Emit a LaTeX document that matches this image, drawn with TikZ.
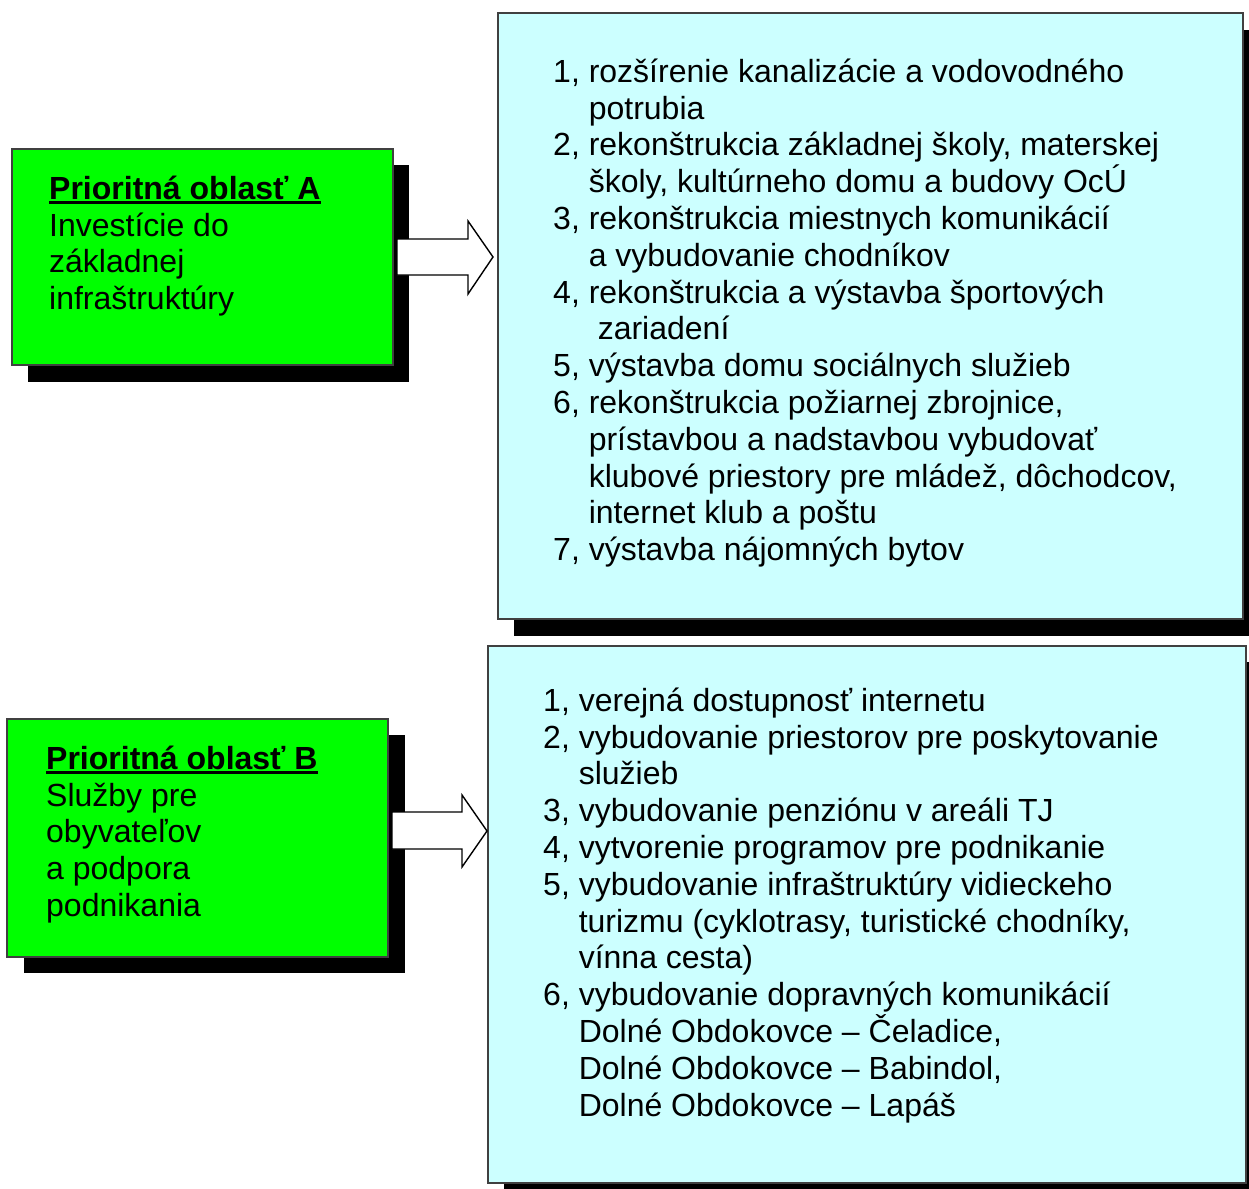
\documentclass[tikz,border=0pt]{standalone}
\usepackage{fontspec}
\setmainfont{Liberation Sans}
\newcommand\ind{\phantom{1, }}
\newcommand\myul[1]{\setbox0\hbox{#1}\rlap{\rule[-4.5pt]{\wd0}{3pt}}\box0}
\definecolor{boxgreen}{HTML}{00FF00}
\definecolor{boxcyan}{HTML}{CCFFFF}
\tikzset{
  box/.style={draw=black!75, line width=1.4pt},
  shadowbox/.style={fill=black, draw=none},
  txt/.style={anchor=north west, inner sep=0pt, align=left,
    font=\fontsize{32}{36.8}\selectfont},
  blockarrow/.style={draw=black, fill=white, line width=1.4pt, line join=miter}
}
\begin{document}
\begin{tikzpicture}[x=1pt,y=-1pt]
\useasboundingbox (0,0) rectangle (1249,1188);
\clip (0,0) rectangle (1249,1188);
\fill[white] (0,0) rectangle (1249,1188);

% shadows
\fill[shadowbox] (28,165) rectangle (409,382);
\fill[shadowbox] (514,30) rectangle (1262,636);
\fill[shadowbox] (24,735) rectangle (405,973);
\fill[shadowbox] (504,662) rectangle (1262,1199);

% boxes
\draw[box, fill=boxgreen] (12,149) rectangle (393,365) coordinate (gAse);
\coordinate (gA) at (12,149);
\draw[box, fill=boxcyan] (498,13) rectangle (1243,619);
\coordinate (cA) at (498,13);
\draw[box, fill=boxgreen] (7,719) rectangle (388,957);
\coordinate (gB) at (7,719);
\draw[box, fill=boxcyan] (488,646) rectangle (1246,1183);
\coordinate (cB) at (488,646);

% arrows
\draw[blockarrow] (397,239) -- (468,239) -- (468,221) -- (493,257) -- (468,294) -- (468,275) -- (397,275) -- cycle;
\draw[blockarrow] (392,812) -- (462,812) -- (462,795) -- (487,831) -- (462,867) -- (462,849) -- (392,849) -- cycle;

% texts
\node[txt] (tA) at (49,171) {\rule{0pt}{28pt}\textbf{\myul{Prioritná oblasť A}}\\
Investície do\\ základnej\\ infraštruktúry};

\node[txt] (tB) at (46,741) {\rule{0pt}{28pt}\textbf{\myul{Prioritná oblasť B}}\\
Služby pre\\ obyvateľov\\ a podpora\\ podnikania};

\node[txt] (lA) at (553,54) {\rule{0pt}{28pt}1, rozšírenie kanalizácie a vodovodného\\
\ind potrubia\\
2, rekonštrukcia základnej školy, materskej\\
\ind školy, kultúrneho domu a budovy OcÚ\\
3, rekonštrukcia miestnych komunikácií\\
\ind a vybudovanie chodníkov\\
4, rekonštrukcia a výstavba športových\\
\ind\hspace*{9pt}zariadení\\
5, výstavba domu sociálnych služieb\\
6, rekonštrukcia požiarnej zbrojnice,\\
\ind prístavbou a nadstavbou vybudovať\\
\ind klubové priestory pre mládež, dôchodcov,\\
\ind internet klub a poštu\\
7, výstavba nájomných bytov};

\node[txt] (lB) at (543,683) {\rule{0pt}{28pt}1, verejná dostupnosť internetu\\
2, vybudovanie priestorov pre poskytovanie\\
\ind služieb\\
3, vybudovanie penziónu v areáli TJ\\
4, vytvorenie programov pre podnikanie\\
5, vybudovanie infraštruktúry vidieckeho\\
\ind turizmu (cyklotrasy, turistické chodníky,\\
\ind vínna cesta)\\
6, vybudovanie dopravných komunikácií\\
\ind Dolné Obdokovce – Čeladice,\\
\ind Dolné Obdokovce – Babindol,\\
\ind Dolné Obdokovce – Lapáš};
\end{tikzpicture}
\end{document}
